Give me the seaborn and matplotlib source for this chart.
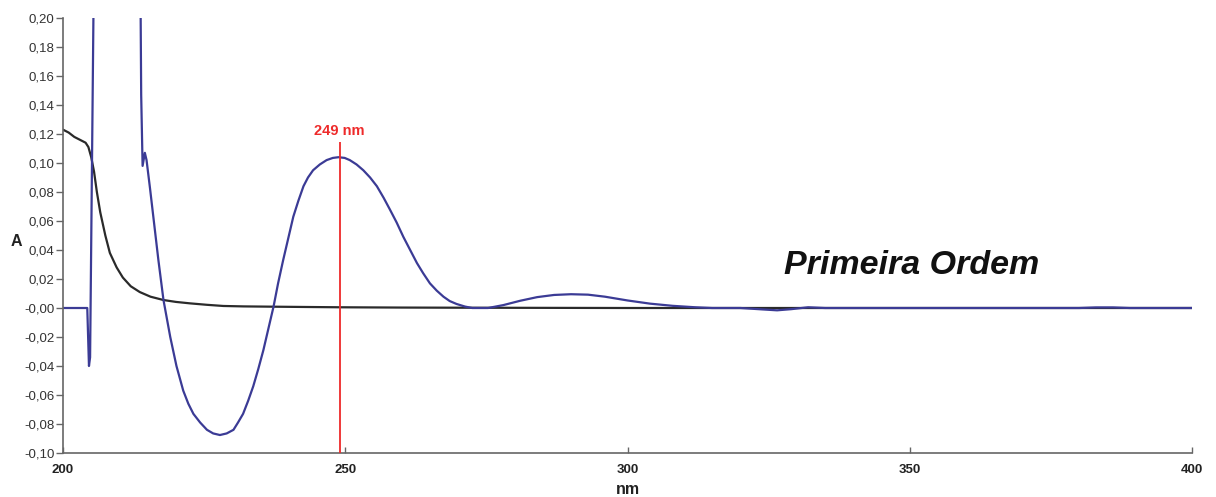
import matplotlib
matplotlib.use("Agg")
import matplotlib.pyplot as plt
import seaborn as sns
import pandas as pd

# ---- data ----
deriv_nm = [200, 202, 204, 204.3, 204.6, 204.8, 205.4, 205.6, 213.6, 213.75, 213.85, 214.1,
            214.5, 214.8, 215.4, 216.0, 216.9, 217.8, 219.0, 220.1, 221.3, 222.2, 223.1,
            224.3, 225.5, 226.6, 227.8, 229.0, 230.2, 231.0, 231.9, 232.8, 233.7, 234.6,
            235.5, 236.4, 237.3, 238.1, 239.0, 239.9, 240.8, 241.7, 242.6, 243.4, 244.3,
            245.5, 246.7, 247.8, 248.8, 249.9, 250.8, 252.0, 253.2, 254.4, 255.6, 256.8,
            257.9, 259.1, 260.3, 261.5, 262.7, 263.8, 265.0, 266.2, 267.4, 268.5, 269.7,
            271.2, 272.5, 275.3, 278.0, 281.0, 284.0, 287.0, 290.0, 293.0, 296.0, 300.0,
            304.0, 308.0, 312.0, 315.0, 320.0, 324.0, 326.5, 329.0, 332.0, 335.0, 380.0,
            383.0, 386.0, 389.0, 400.0]
deriv_abs = [0.0, 0.0, 0.0, 0.0, -0.040, -0.034, 0.205, 0.40, 0.40, 0.205, 0.147, 0.098,
             0.107, 0.102, 0.083, 0.063, 0.033, 0.0055, -0.020, -0.040, -0.057, -0.066, -0.073,
             -0.079, -0.084, -0.0865, -0.0876, -0.0865, -0.084, -0.079, -0.073, -0.064, -0.054,
             -0.042, -0.029, -0.014, 0.001, 0.017, 0.033, 0.048, 0.063, 0.074, 0.084, 0.090,
             0.095, 0.099, 0.102, 0.1035, 0.104, 0.1035, 0.102, 0.099, 0.095, 0.090, 0.084,
             0.076, 0.068, 0.059, 0.049, 0.040, 0.031, 0.024, 0.017, 0.012, 0.0078, 0.0048,
             0.0028, 0.001, 0.0, 0.0, 0.002, 0.005, 0.0075, 0.009, 0.0095, 0.0092, 0.0078,
             0.0052, 0.0030, 0.0015, 0.0005, 0.0, 0.0, -0.0010, -0.0016, -0.0008, 0.0005, 0.0,
             0.0, 0.0004, 0.0004, 0.0, 0.0]

zero_nm = [200, 201, 202, 203, 204, 204.5, 205.0, 205.5, 206.0, 206.6, 207.5, 208.3, 209.5,
           210.6, 212.0, 213.6, 215.5, 217.8, 220.0, 222.5, 225.5, 228.4, 232.0, 237.3, 243.0,
           249.0, 260.0, 270.0, 300.0, 400.0]
zero_abs = [0.123, 0.121, 0.118, 0.116, 0.114, 0.111, 0.104, 0.094, 0.080, 0.066, 0.050,
            0.038, 0.028, 0.021, 0.015, 0.011, 0.0078, 0.0055, 0.0042, 0.0032, 0.0022, 0.0014,
            0.0011, 0.0009, 0.0007, 0.0005, 0.0003, 0.0002, 0.0, 0.0]

peak_nm = 249
peak_label = "249 nm"
series_title = "Primeira Ordem"
x_ticks = [200, 250, 300, 350, 400]
y_ticks = [0.20, 0.18, 0.16, 0.14, 0.12, 0.10, 0.08, 0.06, 0.04, 0.02, 0.00,
           -0.02, -0.04, -0.06, -0.08, -0.10]
y_tick_labels = ["0,20", "0,18", "0,16", "0,14", "0,12", "0,10", "0,08", "0,06", "0,04",
                 "0,02", "-0,00", "-0,02", "-0,04", "-0,06", "-0,08", "-0,10"]

# ---- plot ----
sns.set_style("white")
plt.rcParams["font.family"] = ["Liberation Sans", "DejaVu Sans"]

fig = plt.figure(figsize=(12.16, 4.97), dpi=100)
ax = fig.add_axes([63 / 1216, 44 / 497, (1192 - 63) / 1216, (453 - 18) / 497])

df0 = pd.DataFrame({"nm": zero_nm, "A": zero_abs})
df1 = pd.DataFrame({"nm": deriv_nm, "A": deriv_abs})

sns.lineplot(data=df0, x="nm", y="A", ax=ax, color="#2a2a2a", linewidth=1.6,
             estimator=None, sort=False)
sns.lineplot(data=df1, x="nm", y="A", ax=ax, color="#3b3b95", linewidth=1.6,
             estimator=None, sort=False)

ax.vlines(peak_nm, -0.10, 0.1145, color="#ee2a2a", linewidth=1.3, zorder=5)
ax.text(peak_nm, 0.1175, peak_label, color="#ee2a2a", fontsize=10.5, fontweight="bold",
        ha="center", va="bottom")

ax.text(0.752, 0.432, series_title, transform=ax.transAxes, fontsize=24.5,
        fontweight="bold", fontstyle="italic", ha="center", va="center", color="#111111")

ax.set_xlim(200, 400)
ax.set_ylim(-0.10, 0.20)
ax.set_xticks(x_ticks)
ax.set_xticklabels([str(t) for t in x_ticks], fontweight="bold")
ax.set_yticks(y_ticks)
ax.set_yticklabels(y_tick_labels)

for s in ["top", "right"]:
    ax.spines[s].set_visible(False)
for s in ["left", "bottom"]:
    ax.spines[s].set_color("#666666")
    ax.spines[s].set_linewidth(1.2)

ax.tick_params(axis="y", direction="out", length=5, width=1, color="#666666",
               labelsize=9.5, labelcolor="#333333", pad=1, left=True)
ax.tick_params(axis="x", direction="in", length=4, width=1, color="#666666",
               labelsize=9.5, labelcolor="#222222", pad=8, bottom=True)

ax.set_xlabel("nm", fontsize=11.5, fontweight="bold", color="#222222", labelpad=4)
ax.set_ylabel("A", fontsize=11.5, fontweight="bold", color="#222222", rotation=0,
              va="center", ha="center")
ax.yaxis.set_label_coords(-0.041, 0.486)

fig.savefig("out.png", dpi=100, facecolor="white")
